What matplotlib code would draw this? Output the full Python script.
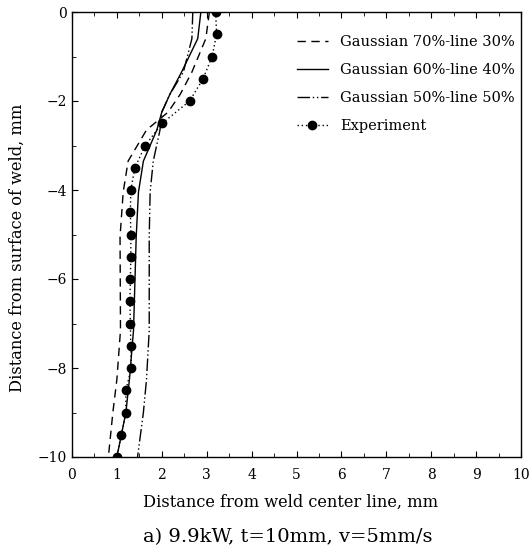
import numpy as np
import matplotlib.pyplot as plt
from matplotlib.ticker import MultipleLocator

# depth below the weld surface (mm) where the model curves were read
y_model = [0, -0.6, -1.35, -1.85, -2.25, -2.65, -3.35, -4.05, -5.05, -7.15, -8.25, -9.0, -10]
x_g70 = [3.06, 2.98, 2.67, 2.41, 2.14, 1.66, 1.25, 1.14, 1.07, 1.08, 1.00, 0.91, 0.81]
x_g60 = [2.87, 2.80, 2.44, 2.18, 2.00, 1.89, 1.59, 1.48, 1.43, 1.37, 1.28, 1.20, 1.00]
x_g50 = [2.69, 2.67, 2.48, 2.18, 2.00, 1.96, 1.81, 1.74, 1.72, 1.72, 1.66, 1.59, 1.46]

y_exp = [0, -0.5, -1.0, -1.5, -2.0, -2.5, -3.0, -3.5, -4.0, -4.5, -5.0,
         -5.5, -6.0, -6.5, -7.0, -7.5, -8.0, -8.5, -9.0, -9.5, -10.0]
x_exp = [3.20, 3.22, 3.12, 2.92, 2.62, 2.01, 1.63, 1.40, 1.31, 1.30, 1.31,
         1.31, 1.30, 1.29, 1.30, 1.31, 1.32, 1.20, 1.20, 1.10, 1.00]

labels = ['Gaussian 70%-line 30%', 'Gaussian 60%-line 40%',
          'Gaussian 50%-line 50%', 'Experiment']

plt.rcParams['font.family'] = 'DejaVu Serif'

fig = plt.figure(figsize=(5.29, 5.49), dpi=100)
ax = fig.add_axes([72/529, 1 - 457/549, 449/529, 445/549])

ax.plot(x_g70, y_model, color='black', lw=1.0, ls=(0, (6, 4)), label=labels[0])
ax.plot(x_g60, y_model, color='black', lw=1.0, ls='-', label=labels[1])
ax.plot(x_g50, y_model, color='black', lw=1.0, ls=(0, (9, 2, 1, 2, 1, 2)), label=labels[2])
ax.plot(x_exp, y_exp, color='black', lw=1.0, ls=(0, (1, 2)), marker='o',
        markersize=6, label=labels[3])

ax.set_xlim(0, 10)
ax.set_ylim(-10, 0)
ax.xaxis.set_major_locator(MultipleLocator(1))
ax.xaxis.set_minor_locator(MultipleLocator(0.5))
ax.yaxis.set_major_locator(MultipleLocator(2))
ax.yaxis.set_minor_locator(MultipleLocator(1))
ax.tick_params(which='both', direction='in', top=True, labelsize=10)
ax.tick_params(which='major', length=4)
ax.tick_params(which='minor', length=3)
ax.tick_params(axis='x', which='major', pad=8)
for sp in ax.spines.values():
    sp.set_linewidth(1.0)

ax.set_xlabel('Distance from weld center line, mm', fontsize=11.7)
ax.xaxis.set_label_coords(0.487, -0.083)
ax.set_ylabel('Distance from surface of weld, mm', fontsize=11.7)
ax.yaxis.set_label_coords(-0.102, 0.47)
fig.text(0.544, 1 - 537/549, 'a) 9.9kW, t=10mm, v=5mm/s', ha='center', va='center', fontsize=14)

ax.legend(loc='upper right', frameon=False, fontsize=10.5, handlelength=2.15,
          handletextpad=0.85, labelspacing=0.97, bbox_to_anchor=(1.0, 0.962),
          borderaxespad=0.0)

fig.savefig('out.png', dpi=100)
